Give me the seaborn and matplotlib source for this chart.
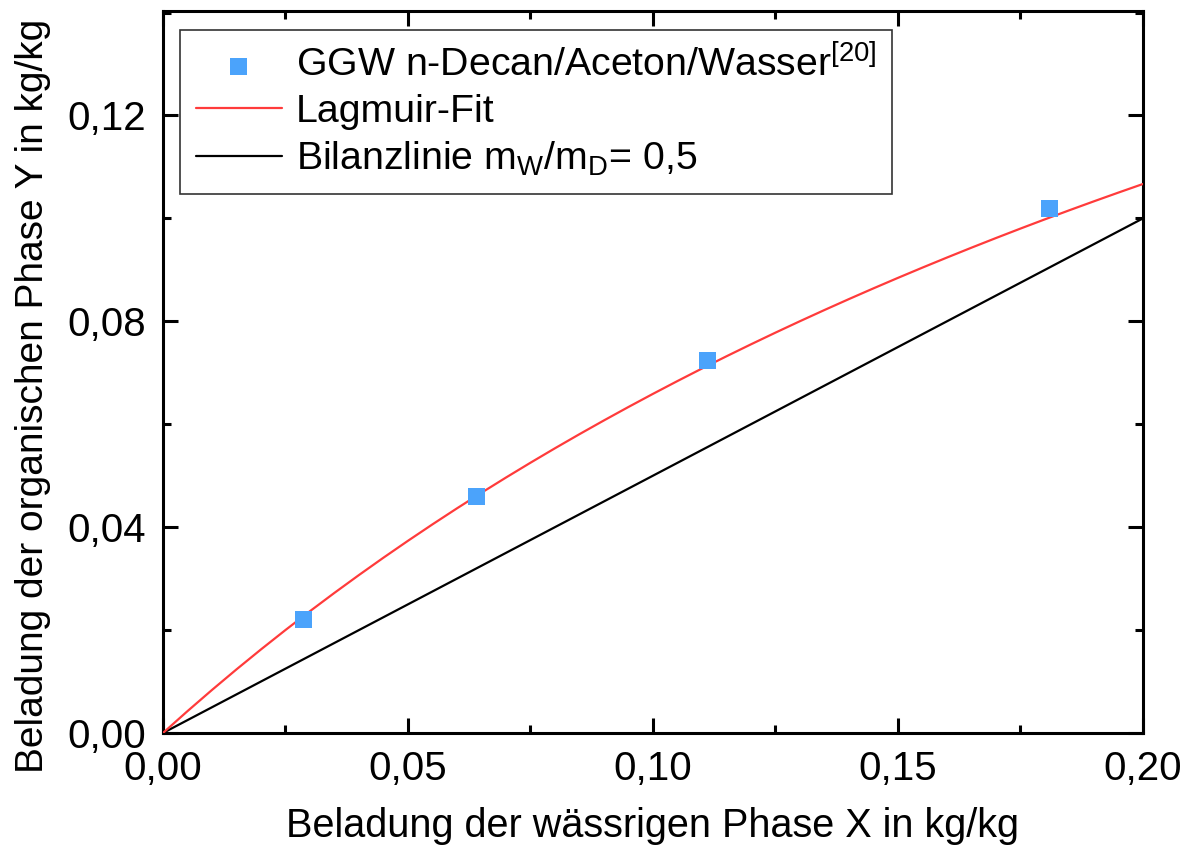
import numpy as np
import pandas as pd
import matplotlib
matplotlib.use("Agg")
import matplotlib.pyplot as plt
from matplotlib.ticker import MultipleLocator, FuncFormatter
import seaborn as sns

# Gleichgewichtsdaten n-Decan/Aceton/Wasser
x_ggw = [0.0286, 0.0639, 0.1112, 0.1810]
y_ggw = [0.0221, 0.0460, 0.0724, 0.1019]

# Langmuir-Parameter: Y = a*X / (1 + b*X)
langmuir_a = 0.862
langmuir_b = 3.08

# Bilanzlinie Y = (m_W/m_D) * X
mass_ratio = 0.5

x_ticks = [0.00, 0.05, 0.10, 0.15, 0.20]
y_ticks = [0.00, 0.04, 0.08, 0.12]

sns.set_theme(style="ticks")
plt.rcParams["font.family"] = ["Liberation Sans", "DejaVu Sans"]
plt.rcParams["mathtext.fontset"] = "custom"
plt.rcParams["mathtext.rm"] = "Liberation Sans"
plt.rcParams["mathtext.it"] = "Liberation Sans"
plt.rcParams["text.color"] = "black"

fig = plt.figure(figsize=(11.88, 8.52), dpi=100)
ax = fig.add_axes([0.1372, 0.1397, 0.8249, 0.8474])

x_line = np.linspace(0, 0.20, 41)
fit_df = pd.DataFrame({"X": x_line,
                       "Y": langmuir_a * x_line / (1 + langmuir_b * x_line)})
bil_df = pd.DataFrame({"X": [0.0, 0.20], "Y": [0.0, mass_ratio * 0.20]})
ggw_df = pd.DataFrame({"X": x_ggw, "Y": y_ggw})

sns.lineplot(data=bil_df, x="X", y="Y", ax=ax, color="black", lw=1.6,
             label=r"Bilanzlinie m$_\mathregular{W}$/m$_\mathregular{D}$= 0,5", zorder=2)
sns.lineplot(data=fit_df, x="X", y="Y", ax=ax, color="#ff3b3b", lw=1.6,
             label="Lagmuir-Fit", zorder=3)
sns.scatterplot(data=ggw_df, x="X", y="Y", ax=ax, marker="s", s=150,
                color="#4ba3fb", edgecolor="none",
                label=r"GGW n-Decan/Aceton/Wasser$^\mathregular{[20]}$", zorder=4)

ax.set_xlim(0, 0.20)
ax.set_ylim(0, 0.1403)
ax.set_xticks(x_ticks)
ax.set_yticks(y_ticks)
ax.xaxis.set_minor_locator(MultipleLocator(0.025))
ax.yaxis.set_minor_locator(MultipleLocator(0.02))
fmt = FuncFormatter(lambda v, p: f"{v:.2f}".replace(".", ","))
ax.xaxis.set_major_formatter(fmt)
ax.yaxis.set_major_formatter(fmt)

ax.tick_params(which="both", direction="in", top=True, right=True,
               labelsize=29, width=2.2, color="black", labelcolor="black")
ax.tick_params(which="major", length=11, pad=12)
ax.tick_params(which="minor", length=6)
for s in ax.spines.values():
    s.set_linewidth(2.2)
    s.set_color("black")

ax.set_xlabel("Beladung der wässrigen Phase X in kg/kg", fontsize=28.5,
              color="black")
ax.set_ylabel("Beladung der organischen Phase Y in kg/kg", fontsize=28,
              color="black")
ax.xaxis.set_label_coords(0.5, -0.102)
ax.yaxis.set_label_coords(-0.114, 0.467)

handles, labels = ax.get_legend_handles_labels()
order = [2, 1, 0]
leg = ax.legend([handles[i] for i in order], [labels[i] for i in order],
                loc="upper left", bbox_to_anchor=(0.0173, 0.9737),
                borderaxespad=0, fontsize=28.3, frameon=True, fancybox=False,
                edgecolor="black", handlelength=2.2, handletextpad=0.35,
                borderpad=0.4, labelspacing=0.24, markerscale=1.0)
leg.get_frame().set_linewidth(1.2)
for t in leg.get_texts():
    t.set_color("black")

fig.savefig("out.png", dpi=100)
